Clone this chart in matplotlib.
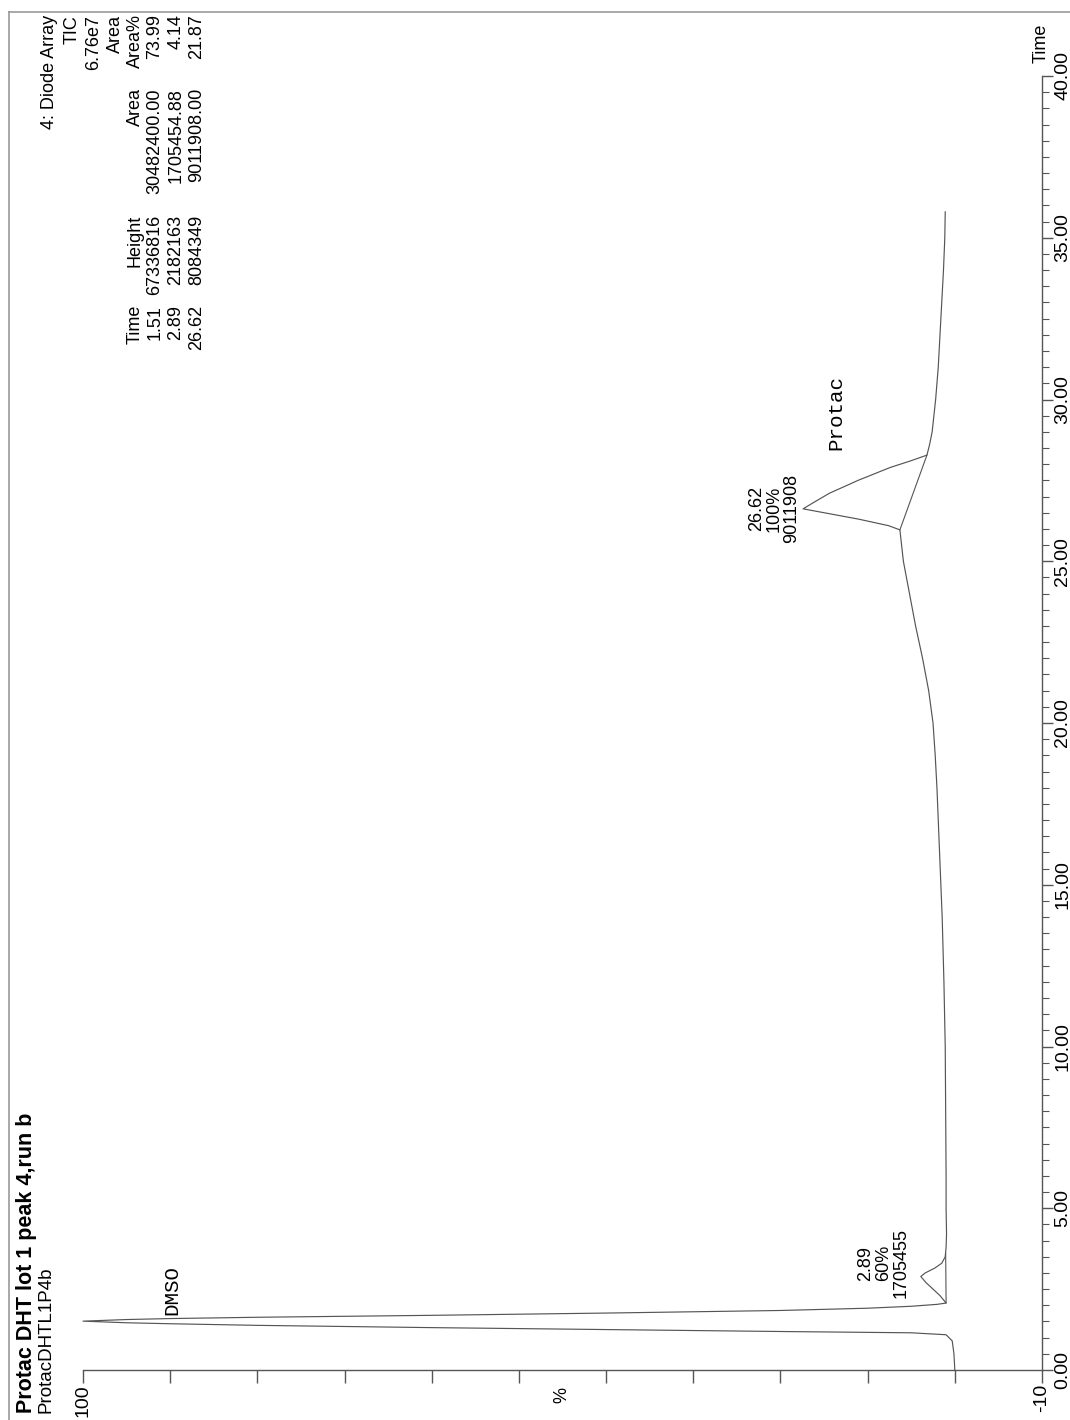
import matplotlib
matplotlib.use('Agg')
import matplotlib.pyplot as plt
from matplotlib.ticker import MultipleLocator, FixedLocator, FuncFormatter
from matplotlib.lines import Line2D

# chromatogram trace: retention time (min) and relative intensity (%)
time_min = [0.0, 0.5, 0.9, 1.09, 1.15, 1.19, 1.25, 1.31, 1.38, 1.43, 1.46, 1.51,
            1.56, 1.59, 1.63, 1.69, 1.76, 1.84, 1.91, 1.97, 2.03, 2.07,
            2.3, 2.5, 2.7, 2.89, 3.0, 3.15, 3.3, 3.5, 3.8, 4.2,
            5.0, 6.0, 8.0, 10.0, 12.0, 14.0, 15.0, 16.0, 17.0, 18.0, 19.0, 20.0,
            21.0, 22.0, 23.0, 24.0, 25.0, 25.97,
            26.1, 26.3, 26.5, 26.62, 26.8, 27.1, 27.5, 27.9, 28.1, 28.28,
            28.6, 29.0, 30.0, 31.0, 32.0, 33.0, 34.0, 35.0, 35.8]
intensity = [0.0, 0.1, 0.3, 1.0, 5.0, 20.0, 40.0, 60.0, 80.0, 90.0, 95.0, 100.0,
             95.0, 90.0, 80.0, 60.0, 40.0, 20.0, 10.0, 5.0, 2.0, 1.0,
             1.7, 2.5, 3.3, 3.9, 3.4, 2.3, 1.5, 1.1, 1.0, 0.95,
             1.0, 1.0, 1.05, 1.1, 1.25, 1.45, 1.6, 1.75, 1.9, 2.05, 2.25, 2.5,
             3.0, 3.7, 4.5, 5.2, 5.9, 6.3,
             7.6, 11.0, 15.0, 17.4, 16.3, 14.4, 11.1, 7.4, 5.1, 3.2,
             2.9, 2.6, 2.2, 1.9, 1.7, 1.5, 1.3, 1.15, 1.1]

# integration baselines drawn under the labelled peaks
base_time = [[2.07, 3.6], [25.97, 28.28]]
base_level = [[1.0, 1.05], [6.3, 3.2]]

# peak annotations
peak_times = [2.89, 26.62]
peak_pct = ['60%', '100%']
peak_area = ['1705455', '9011908']
peak_label_time = [3.3, 26.62]
peak_label_gap = [1.3, 0.35]

# compound labels
compounds = ['DMSO', 'Protac']
compound_time = [2.47, 29.6]
compound_level = [89.8, 13.7]

# peak table
table_header = ['Time', 'Height', 'Area', 'Area%']
table_time = ['1.51', '2.89', '26.62']
table_height = ['67336816', '2182163', '8084349']
table_area = ['30482400.00', '1705454.88', '9011908.00']
table_pct = ['73.99', '4.14', '21.87']
trace_info = ['4: Diode Array', 'TIC', '6.76e7', 'Area']

title = 'Protac DHT lot 1 peak 4,run b'
subtitle = 'ProtacDHTL1P4b'

W, H = 1070, 1420
fx = lambda x: x / W
fy = lambda y: 1 - y / H

plt.rcParams['font.family'] = ['Liberation Sans', 'DejaVu Sans']
grey = '#555555'

fig = plt.figure(figsize=(W / 100, H / 100), dpi=100)
ax = fig.add_axes([fx(83), fy(1370), fx(1042) - fx(83), fy(76) - fy(1370)])

ax.plot(intensity, time_min, color=grey, lw=0.85, clip_on=False)
for bt, bl in zip(base_time, base_level):
    ax.plot(bl, bt, color=grey, lw=0.8, clip_on=False)

ax.set_xlim(100, -10)
ax.set_ylim(0, 40)

for sp in ['left', 'top']:
    ax.spines[sp].set_visible(False)
for sp in ['bottom', 'right']:
    ax.spines[sp].set_color(grey)
    ax.spines[sp].set_linewidth(1.0)

# intensity axis (bottom)
ax.xaxis.set_major_locator(FixedLocator(list(range(-10, 101, 10))))
ax.xaxis.set_major_formatter(FuncFormatter(
    lambda v, p: '{:d}'.format(int(round(v))) if round(v) in (100, -10) else ''))
ax.tick_params(axis='x', direction='out', length=9, width=1, color=grey,
               labelsize=14, labelrotation=90, pad=1)

# time axis (right)
ax.yaxis.tick_right()
ax.yaxis.set_major_locator(MultipleLocator(5))
ax.yaxis.set_minor_locator(MultipleLocator(0.5))
ax.yaxis.set_major_formatter(FuncFormatter(lambda v, p: '{:.2f}'.format(v)))
ax.tick_params(axis='y', which='major', direction='out', length=8, width=1,
               color=grey, labelsize=14, labelrotation=90, pad=1)
ax.tick_params(axis='y', which='minor', direction='out', length=5, width=0.8,
               color=grey)
for lab in ax.get_yticklabels():
    lab.set_va('center')

fig.text(fx(1041), fy(63), 'Time', rotation=90, ha='center', va='bottom', fontsize=13)
fig.text(fx(562), fy(1395), '%', rotation=90, ha='center', va='center', fontsize=13)

# peak labels
for pt, pc, pa, lt, gap in zip(peak_times, peak_pct, peak_area, peak_label_time, peak_label_gap):
    top = intensity[time_min.index(pt)]
    ax.text(top + gap, lt, '{:.2f}\n{}\n{}'.format(pt, pc, pa), rotation=90,
            ha='right', va='center', multialignment='center', fontsize=13,
            linespacing=1.05)

for name, ct, cl in zip(compounds, compound_time, compound_level):
    ax.text(cl, ct, name, rotation=90, ha='center', va='center',
            family='Liberation Mono', fontsize=15)

# title block
fig.text(fx(27), fy(1413), title, rotation=90, ha='center', va='bottom',
         fontsize=15.5, fontweight='bold')
fig.text(fx(46), fy(1413), subtitle, rotation=90, ha='center', va='bottom', fontsize=13.5)

# peak table (top left)
info_x = [50, 72, 94, 115]
for txt, x in zip(trace_info, info_x):
    fig.text(fx(x), fy(15), txt, rotation=90, ha='center', va='top', fontsize=13)

col_top = [305, 215, 88, 14]
row_x = [135, 155, 176, 197]
columns = [table_time, table_height, table_area, table_pct]
for head, vals, top in zip(table_header, columns, col_top):
    for txt, x in zip([head] + vals, row_x):
        fig.text(fx(x), fy(top), txt, rotation=90, ha='center', va='top', fontsize=13)

# page frame
fig.add_artist(Line2D([fx(9), 1], [fy(12), fy(12)], color='#999999', lw=1.2))
fig.add_artist(Line2D([fx(9), fx(9)], [fy(12), 0], color='#999999', lw=1.2))

fig.savefig('out.png', dpi=100, facecolor='white')
